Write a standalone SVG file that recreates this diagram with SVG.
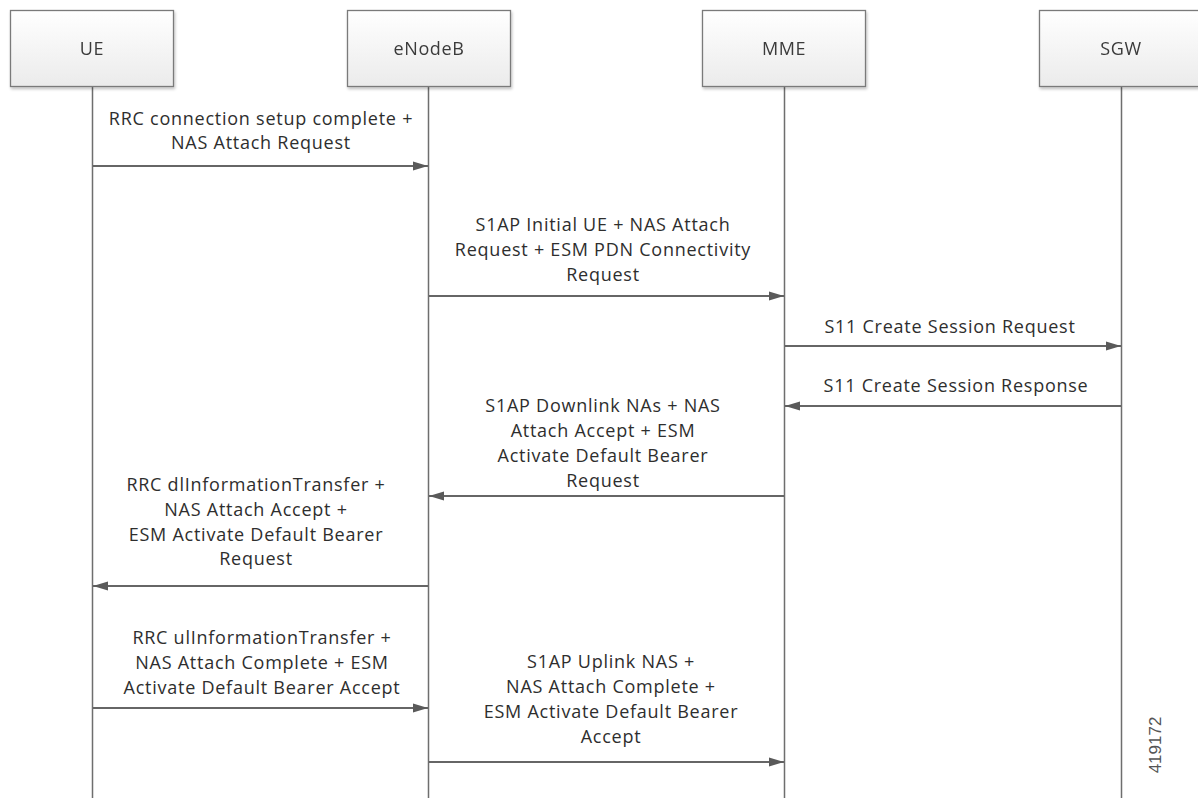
<svg xmlns="http://www.w3.org/2000/svg" width="1198" height="798" viewBox="0 0 1198 798">
  <defs>
    <linearGradient id="boxFill" x1="0" y1="0" x2="0" y2="1">
      <stop offset="0" stop-color="#ffffff"/>
      <stop offset="1" stop-color="#ebebeb"/>
    </linearGradient>
    <filter id="shadow" x="-10%" y="-10%" width="120%" height="130%">
      <feGaussianBlur in="SourceAlpha" stdDeviation="1.5"/>
      <feOffset dx="1" dy="1.5" result="b"/>
      <feComponentTransfer><feFuncA type="linear" slope="0.25"/></feComponentTransfer>
      <feMerge><feMergeNode/><feMergeNode in="SourceGraphic"/></feMerge>
    </filter>
    <marker id="arrow" viewBox="0 0 15 10" refX="15" refY="5" markerWidth="15" markerHeight="10" markerUnits="userSpaceOnUse" orient="auto">
      <path d="M0,0.5 L15,5 L0,9.5 Z" fill="#5a5a5a"/>
    </marker>
  </defs>
  <style>
    .box { fill: url(#boxFill); stroke: #7a7a7a; stroke-width: 1.3; }
    .name { font-family: "Open Sans", "Noto Sans", sans-serif; font-size: 18px; letter-spacing: 0.6px; fill: #3a3a3a; text-anchor: middle; }
    .life { stroke: #6e6e6e; stroke-width: 1.5; fill: none; }
    .msg { stroke: #666666; stroke-width: 1.8; fill: none; marker-end: url(#arrow); }
    .lbl { font-family: "Open Sans", "Noto Sans", sans-serif; font-size: 18px; letter-spacing: 0.75px; fill: #2e2e2e; text-anchor: middle; }
    .fig { font-family: "Liberation Sans", Arial, sans-serif; font-size: 17px; fill: #555555; text-anchor: middle; }
  </style>
  <rect width="1198" height="798" fill="#ffffff"/>

  <!-- lifelines -->
  <g id="lifelines">
    <line class="life" x1="92.5" y1="87" x2="92.5" y2="798"/>
    <line class="life" x1="428.5" y1="87" x2="428.5" y2="798"/>
    <line class="life" x1="784.5" y1="87" x2="784.5" y2="798"/>
    <line class="life" x1="1121.5" y1="87" x2="1121.5" y2="798"/>
  </g>

  <!-- participants -->
  <g id="ue" filter="url(#shadow)">
    <rect class="box" x="10.5" y="10.5" width="163" height="76"/>
    <text class="name" x="92" y="55">UE</text>
  </g>
  <g id="enodeb" filter="url(#shadow)">
    <rect class="box" x="347.5" y="10.5" width="163" height="76"/>
    <text class="name" x="429" y="55">eNodeB</text>
  </g>
  <g id="mme" filter="url(#shadow)">
    <rect class="box" x="702.5" y="10.5" width="163" height="76"/>
    <text class="name" x="784" y="55">MME</text>
  </g>
  <g id="sgw" filter="url(#shadow)">
    <rect class="box" x="1039.5" y="10.5" width="163" height="76"/>
    <text class="name" x="1121" y="55">SGW</text>
  </g>

  <!-- messages -->
  <g id="connectors">
    <line class="msg" x1="93" y1="166" x2="428" y2="166"/>
    <line class="msg" x1="429" y1="296" x2="784" y2="296"/>
    <line class="msg" x1="785" y1="346" x2="1121" y2="346"/>
    <line class="msg" x1="1121" y1="406" x2="785" y2="406"/>
    <line class="msg" x1="784" y1="496" x2="429" y2="496"/>
    <line class="msg" x1="428" y1="586" x2="93" y2="586"/>
    <line class="msg" x1="93" y1="708" x2="428" y2="708"/>
    <line class="msg" x1="429" y1="762" x2="784" y2="762"/>
  </g>

  <g id="labels">
    <text class="lbl" x="261" y="125">RRC connection setup complete +</text>
    <text class="lbl" x="261" y="149">NAS Attach Request</text>

    <text class="lbl" x="603" y="231">S1AP Initial UE + NAS Attach</text>
    <text class="lbl" x="603" y="256">Request + ESM PDN Connectivity</text>
    <text class="lbl" x="603" y="281">Request</text>

    <text class="lbl" x="950" y="333">S11 Create Session Request</text>
    <text class="lbl" x="956" y="392">S11 Create Session Response</text>

    <text class="lbl" x="603" y="412">S1AP Downlink NAs + NAS</text>
    <text class="lbl" x="603" y="437">Attach Accept + ESM</text>
    <text class="lbl" x="603" y="462">Activate Default Bearer</text>
    <text class="lbl" x="603" y="487">Request</text>

    <text class="lbl" x="256" y="491">RRC dlInformationTransfer +</text>
    <text class="lbl" x="256" y="516">NAS Attach Accept +</text>
    <text class="lbl" x="256" y="541">ESM Activate Default Bearer</text>
    <text class="lbl" x="256" y="565">Request</text>

    <text class="lbl" x="262" y="644">RRC ulInformationTransfer +</text>
    <text class="lbl" x="262" y="669">NAS Attach Complete + ESM</text>
    <text class="lbl" x="262" y="694">Activate Default Bearer Accept</text>

    <text class="lbl" x="611" y="668">S1AP Uplink NAS +</text>
    <text class="lbl" x="611" y="693">NAS Attach Complete +</text>
    <text class="lbl" x="611" y="718">ESM Activate Default Bearer</text>
    <text class="lbl" x="611" y="743">Accept</text>
  </g>

  <text class="fig" transform="translate(1161,745) rotate(-90)">419172</text>
</svg>
